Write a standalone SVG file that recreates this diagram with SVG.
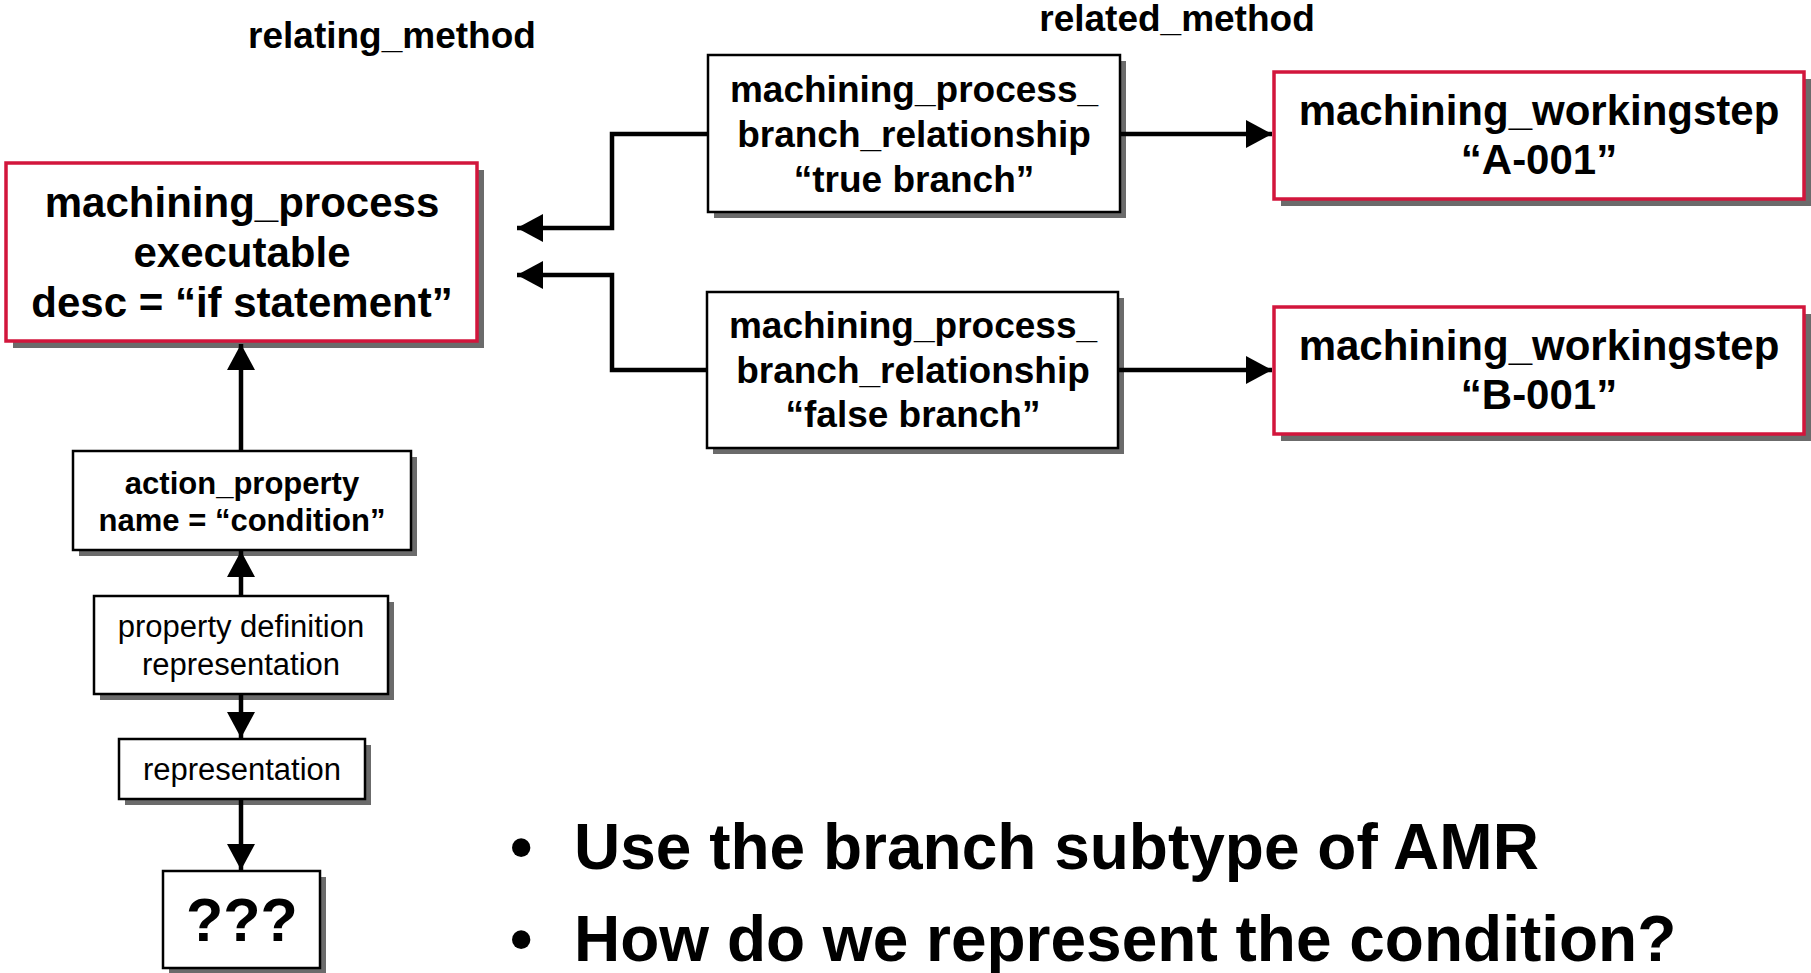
<svg xmlns="http://www.w3.org/2000/svg" width="1811" height="973" viewBox="0 0 1811 973">
  <style>
    text { font-family: "Liberation Sans", Arial, sans-serif; fill: #000; text-anchor: middle; }
    .b { font-weight: bold; }
    .shadow { fill: #6b6b6b; }
    .box { fill: #fff; stroke: #000; stroke-width: 2.5; }
    .red { fill: #fff; stroke: #d2163c; stroke-width: 3.5; }
    .wire { fill: none; stroke: #000; stroke-width: 4.5; }
    .lbl { font-size: 37px; font-weight: bold; }
    .big { font-size: 42px; font-weight: bold; }
    .mid { font-size: 37px; font-weight: bold; }
    .sm { font-size: 31px; }
    .bullet { font-size: 64px; font-weight: bold; text-anchor: start; }
  </style>
  <defs>
    <marker id="arrow" viewBox="0 0 26 28" refX="26" refY="14" markerWidth="26" markerHeight="28" markerUnits="userSpaceOnUse" orient="auto">
      <path d="M0,0 L26,14 L0,28 Z" fill="#000"/>
    </marker>
  </defs>

  <rect width="1811" height="973" fill="#fff"/>

  <!-- role labels -->
  <text class="lbl" x="392" y="48">relating_method</text>
  <text class="lbl" x="1177" y="31">related_method</text>

  <!-- relating method -->
  <g id="executable">
    <rect class="shadow" x="13" y="170" width="471" height="178"/>
    <rect class="red" x="6" y="163" width="471" height="178"/>
    <text class="big" x="242" y="217">machining_process</text>
    <text class="big" x="242" y="267">executable</text>
    <text class="big" x="242" y="317">desc = “if statement”</text>
  </g>

  <!-- branch relationships -->
  <g id="true-branch">
    <rect class="shadow" x="714" y="61" width="412" height="157"/>
    <rect class="box" x="708" y="55" width="412" height="157"/>
    <text class="mid" x="914" y="102">machining_process_</text>
    <text class="mid" x="914" y="147">branch_relationship</text>
    <text class="mid" x="914" y="192">“true branch”</text>
  </g>
  <g id="false-branch">
    <rect class="shadow" x="713" y="298" width="411" height="156"/>
    <rect class="box" x="707" y="292" width="411" height="156"/>
    <text class="mid" x="913" y="338">machining_process_</text>
    <text class="mid" x="913" y="383">branch_relationship</text>
    <text class="mid" x="913" y="427">“false branch”</text>
  </g>

  <!-- related methods -->
  <g id="workingstep-a">
    <rect class="shadow" x="1281" y="79" width="530" height="127"/>
    <rect class="red" x="1274" y="72" width="530" height="127"/>
    <text class="big" x="1539" y="125">machining_workingstep</text>
    <text class="big" x="1539" y="174">“A-001”</text>
  </g>
  <g id="workingstep-b">
    <rect class="shadow" x="1281" y="314" width="530" height="127"/>
    <rect class="red" x="1274" y="307" width="530" height="127"/>
    <text class="big" x="1539" y="360">machining_workingstep</text>
    <text class="big" x="1539" y="409">“B-001”</text>
  </g>

  <!-- condition chain -->
  <g id="action-property">
    <rect class="shadow" x="79" y="457" width="338" height="99"/>
    <rect class="box" x="73" y="451" width="338" height="99"/>
    <text class="sm b" x="242" y="494">action_property</text>
    <text class="sm b" x="242" y="531">name = “condition”</text>
  </g>
  <g id="property-definition-representation">
    <rect class="shadow" x="100" y="602" width="294" height="98"/>
    <rect class="box" x="94" y="596" width="294" height="98"/>
    <text class="sm" x="241" y="637">property definition</text>
    <text class="sm" x="241" y="675">representation</text>
  </g>
  <g id="representation">
    <rect class="shadow" x="125" y="745" width="246" height="60"/>
    <rect class="box" x="119" y="739" width="246" height="60"/>
    <text class="sm" x="242" y="780">representation</text>
  </g>
  <g id="unknown">
    <rect class="shadow" x="169" y="877" width="157" height="97"/>
    <rect class="box" x="163" y="871" width="157" height="97"/>
    <text class="b" x="242" y="941" style="font-size:61px">???</text>
  </g>

  <!-- connectors, drawn over the box shadows -->
  <g id="connectors">
    <path class="wire" d="M708,134 H612 V228 H517" marker-end="url(#arrow)"/>
    <path class="wire" d="M707,370 H612 V275 H517" marker-end="url(#arrow)"/>
    <path class="wire" d="M1121,134 H1272" marker-end="url(#arrow)"/>
    <path class="wire" d="M1119,370 H1272" marker-end="url(#arrow)"/>
    <path class="wire" d="M241,450 V344" marker-end="url(#arrow)"/>
    <path class="wire" d="M241,595 V551" marker-end="url(#arrow)"/>
    <path class="wire" d="M241,695 V738" marker-end="url(#arrow)"/>
    <path class="wire" d="M241,800 V870" marker-end="url(#arrow)"/>
  </g>

  <!-- notes -->
  <g id="notes">
    <text class="bullet" x="510" y="869">•</text>
    <text class="bullet" x="574" y="869">Use the branch subtype of AMR</text>
    <text class="bullet" x="510" y="961">•</text>
    <text class="bullet" x="574" y="961">How do we represent the condition?</text>
  </g>
</svg>
